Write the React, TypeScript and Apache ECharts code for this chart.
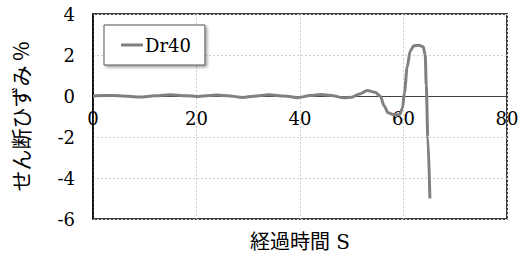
import React, { useEffect, useRef } from "react";
import * as echarts from "echarts";

const seriesName = "Dr40";
const timeS = [0, 2, 4, 6, 9, 12, 15, 18, 20, 24, 26, 29, 31, 34, 37, 39.5, 42, 44, 46, 48.5, 50, 51.5, 53, 54.5, 55.5, 56.3, 57, 58, 59.2, 59.8, 60.2, 60.7, 61.3, 62, 63, 63.8, 64.2, 64.4, 64.7, 65.1];
const strain = [0.0, 0.02, 0.03, 0.0, -0.05, 0.01, 0.06, 0.01, -0.02, 0.05, 0.01, -0.07, -0.01, 0.06, 0.0, -0.08, 0.02, 0.07, 0.03, -0.09, -0.06, 0.1, 0.27, 0.18, 0.0, -0.5, -0.82, -0.9, -0.92, -0.6, 0.2, 1.4, 2.2, 2.45, 2.48, 2.4, 2.0, 0.5, -2.0, -5.0];
const xTicks = { min: 0, max: 80, interval: 20 };
const yTicks = { min: -6, max: 4, interval: 2 };

export default function App() {
  const ref = useRef<HTMLDivElement>(null);
  useEffect(() => {
    if (!ref.current) return;
    const chart = echarts.init(ref.current, null, { renderer: "svg" });
    const serif = "DejaVu Serif";
    const gridTop = 14;
    const gridBottom = 39;
    const plotH = 258 - gridTop - gridBottom;
    const zeroOffset = (plotH * (0 - yTicks.min)) / (yTicks.max - yTicks.min);
    chart.setOption({
      animation: false,
      backgroundColor: "#ffffff",
      grid: {
        left: 93,
        right: 20,
        top: gridTop,
        bottom: gridBottom,
        outerBoundsMode: "none",
        containLabel: false,
        show: true,
        borderColor: "#000000",
        borderWidth: 1.5,
        backgroundColor: "transparent",
      },
      legend: {
        show: true,
        left: 104,
        top: 25,
        padding: [11, 14, 11, 17],
        backgroundColor: "#ffffff",
        borderColor: "#555555",
        borderWidth: 1,
        shadowColor: "rgba(0,0,0,0.35)",
        shadowBlur: 3,
        shadowOffsetX: 2,
        shadowOffsetY: 2,
        itemWidth: 22,
        itemHeight: 3,
        itemGap: 2,
        icon: "rect",
        textStyle: { fontFamily: serif, fontSize: 18, color: "#000000", padding: [0, 0, 0, -3] },
        data: [{ name: seriesName, icon: "rect" }],
      },
      xAxis: {
        type: "value",
        min: xTicks.min,
        max: xTicks.max,
        interval: xTicks.interval,
        name: "経過時間 S",
        nameLocation: "middle",
        nameGap: zeroOffset + 13,
        offset: -zeroOffset,
        nameTextStyle: {
          fontFamily: "DejaVu Serif, Noto Sans CJK JP",
          fontSize: 20,
          color: "#000000",
        },
        axisLine: { onZero: false, lineStyle: { color: "#404040", width: 1 } },
        axisTick: { show: false },
        axisLabel: { fontFamily: serif, fontSize: 18, color: "#000000", margin: 13 },
        splitLine: { show: true, lineStyle: { color: "#d0d0d0", type: [2, 2], width: 1 } },
      },
      yAxis: {
        type: "value",
        min: yTicks.min,
        max: yTicks.max,
        interval: yTicks.interval,
        name: "せん断ひずみ %",
        nameLocation: "middle",
        nameGap: 63,
        nameTextStyle: {
          fontFamily: "Noto Sans CJK JP",
          fontSize: 21,
          color: "#000000",
        },
        axisLine: { show: true, lineStyle: { color: "#000000", width: 1.5 } },
        axisTick: { show: false },
        axisLabel: { fontFamily: serif, fontSize: 18, color: "#000000", margin: 18 },
        splitLine: { show: true, lineStyle: { color: "#d0d0d0", type: [2, 2], width: 1 } },
      },
      series: [
        {
          name: seriesName,
          type: "line",
          data: timeS.map((t, i) => [t, strain[i]]),
          showSymbol: false,
          smooth: 0.3,
          smoothMonotone: "x",
          lineStyle: { color: "#808080", width: 3 },
          itemStyle: { color: "#808080" },
          z: 3,
        },
      ],
    });
    return () => chart.dispose();
  }, []);
  return <div ref={ref} style={{ width: 527, height: 258, position: "absolute", left: 0, top: 0 }} />;
}
